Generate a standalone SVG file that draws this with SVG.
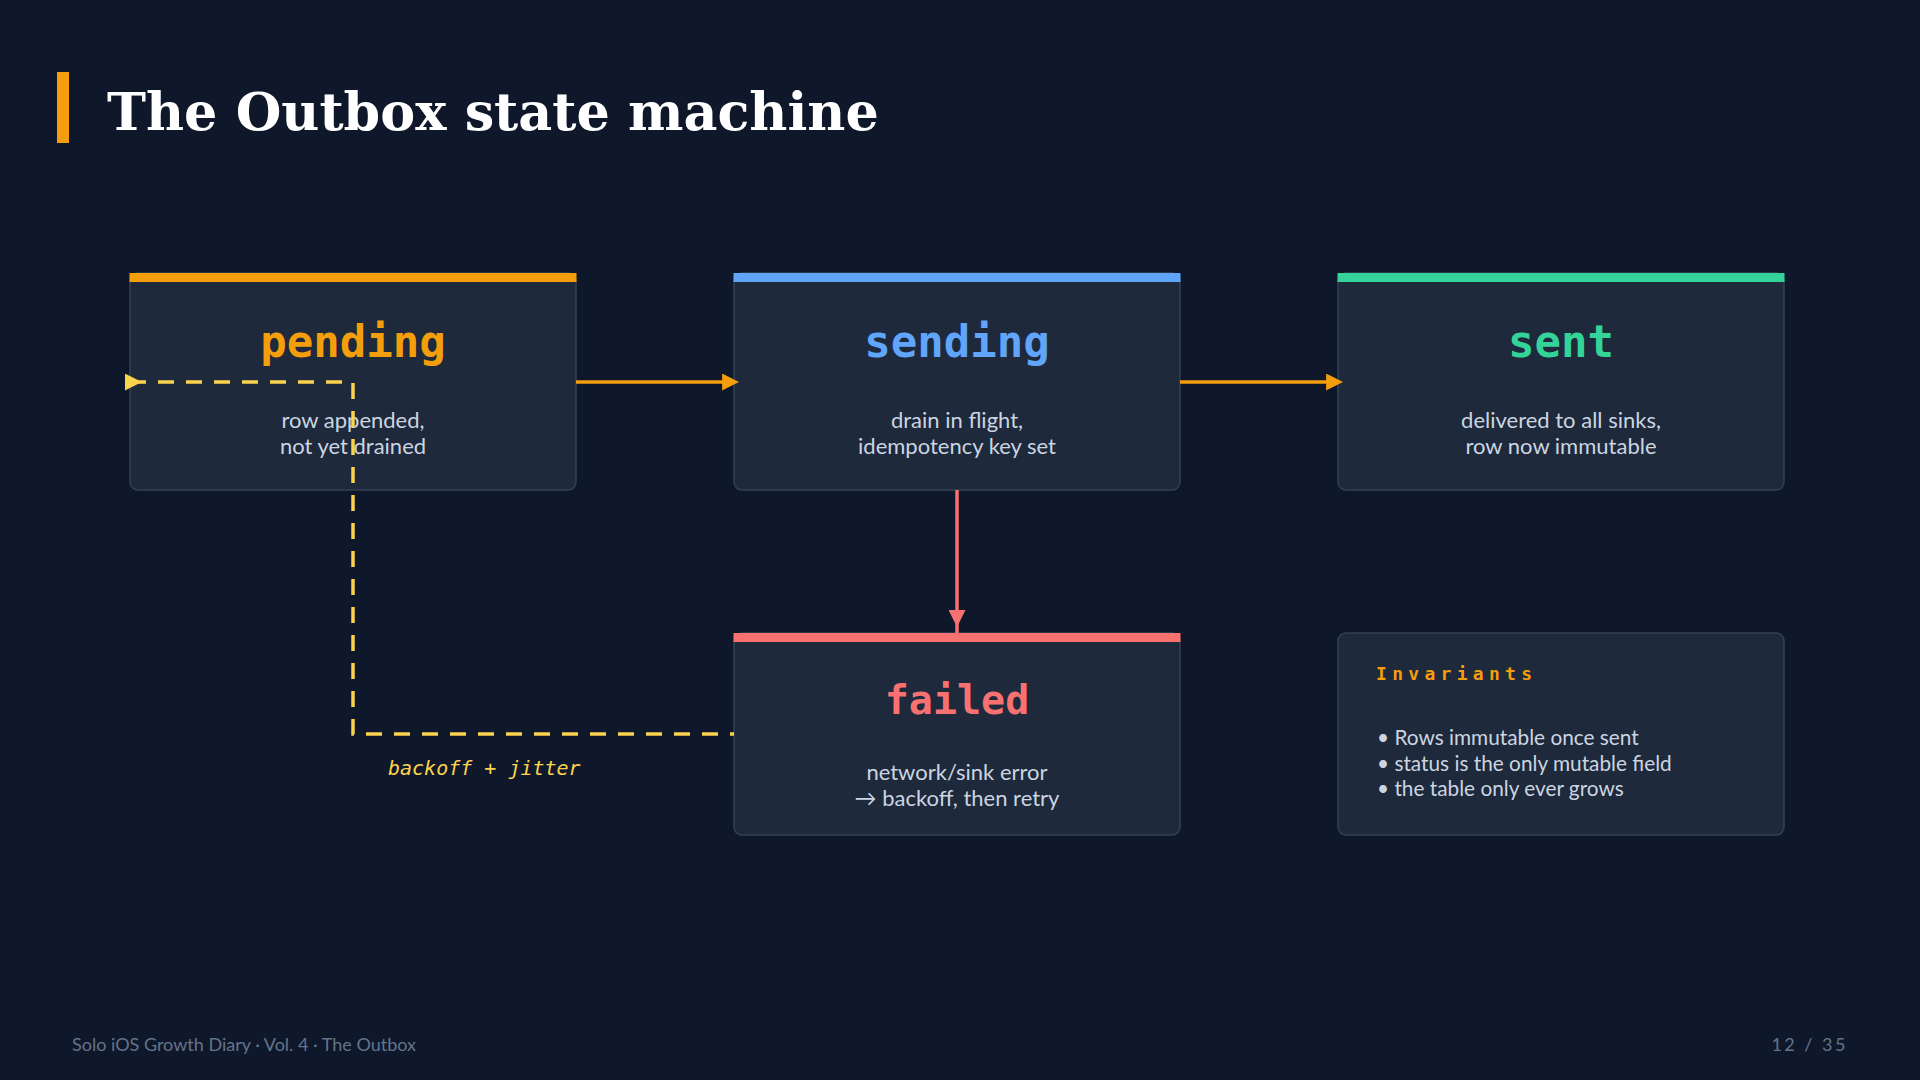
<svg xmlns="http://www.w3.org/2000/svg" width="1920" height="1080" viewBox="0 0 1920 1080">
  <style>
    .box { fill: #1e293b; stroke: #334155; stroke-width: 1.5; }
    .state { font-family: "DejaVu Sans Mono", monospace; font-weight: bold; font-size: 44px; text-anchor: middle; }
    .desc { font-family: Lato, "Liberation Sans", sans-serif; font-size: 22px; fill: #cbd5e1; text-anchor: middle; }
    .body { font-family: Lato, "Liberation Sans", sans-serif; font-size: 20.8px; fill: #cbd5e1; }
    .foot { font-family: Lato, "Liberation Sans", sans-serif; font-size: 18px; fill: #64748b; }
    .solid { fill: none; stroke-width: 3.5; }
  </style>
  <defs>
    <marker id="arrOrange" viewBox="0 0 10 10" refX="7" refY="5" markerUnits="userSpaceOnUse" markerWidth="17" markerHeight="17" orient="auto">
      <path d="M0,0 L10,5 L0,10 z" fill="#f59e0b"/>
    </marker>
    <marker id="arrRed" viewBox="0 0 10 10" refX="13.5" refY="5" markerUnits="userSpaceOnUse" markerWidth="17" markerHeight="17" orient="auto">
      <path d="M0,0 L10,5 L0,10 z" fill="#f87171"/>
    </marker>
    <marker id="arrYellow" viewBox="0 0 10 10" refX="3" refY="5" markerUnits="userSpaceOnUse" markerWidth="17" markerHeight="17" orient="auto">
      <path d="M0,0 L10,5 L0,10 z" fill="#fcd34d"/>
    </marker>
  </defs>

  <rect width="1920" height="1080" fill="#0f172a"/>

  <g id="title">
    <rect x="57" y="72" width="12" height="71" fill="#f59e0b"/>
    <text x="107" y="130" font-family="'DejaVu Serif', serif" font-weight="bold" font-size="52.4" fill="#ffffff">The Outbox state machine</text>
  </g>

  <g id="node-pending">
    <rect class="box" x="130" y="273" width="446" height="217" rx="8"/>
    <rect x="129.5" y="273" width="447" height="9" fill="#f59e0b"/>
    <text class="state" x="353" y="357" fill="#f59e0b">pending</text>
    <text class="desc" x="353" y="428">row appended,</text>
    <text class="desc" x="353" y="454">not yet drained</text>
  </g>

  <g id="node-sending">
    <rect class="box" x="734" y="273" width="446" height="217" rx="8"/>
    <rect x="733.5" y="273" width="447" height="9" fill="#60a5fa"/>
    <text class="state" x="957" y="357" fill="#60a5fa">sending</text>
    <text class="desc" x="957" y="428">drain in flight,</text>
    <text class="desc" x="957" y="454">idempotency key set</text>
  </g>

  <g id="node-sent">
    <rect class="box" x="1338" y="273" width="446" height="217" rx="8"/>
    <rect x="1337.5" y="273" width="447" height="9" fill="#34d399"/>
    <text class="state" x="1561" y="357" fill="#34d399">sent</text>
    <text class="desc" x="1561" y="428">delivered to all sinks,</text>
    <text class="desc" x="1561" y="454">row now immutable</text>
  </g>

  <g id="node-failed">
    <rect class="box" x="734" y="633" width="446" height="202" rx="8"/>
    <rect x="733.5" y="633" width="447" height="9" fill="#f87171"/>
    <text class="state" x="957" y="714" fill="#f87171" style="font-size:40px">failed</text>
    <text class="desc" x="957" y="780">network/sink error</text>
    <text class="desc" x="957" y="806">→ backoff, then retry</text>
  </g>

  <g id="node-invariants">
    <rect class="box" x="1338" y="633" width="446" height="202" rx="8"/>
    <text x="1376" y="680" font-family="'DejaVu Sans Mono', monospace" font-weight="bold" font-size="18" letter-spacing="5.3" fill="#f59e0b">Invariants</text>
    <text class="body" x="1377" y="745">• Rows immutable once sent</text>
    <text class="body" x="1377" y="771">• status is the only mutable field</text>
    <text class="body" x="1377" y="796">• the table only ever grows</text>
  </g>

  <g id="connectors">
    <path class="solid" d="M576,382 H734" stroke="#f59e0b" marker-end="url(#arrOrange)"/>
    <path class="solid" d="M1180,382 H1338" stroke="#f59e0b" marker-end="url(#arrOrange)"/>
    <path class="solid" d="M957,490 V633" stroke="#f87171" marker-end="url(#arrRed)"/>
    <path d="M130,382 H353 V734 H734" fill="none" stroke="#fcd34d" stroke-width="3.5" stroke-dasharray="16 12" marker-start="url(#arrYellow)"/>
    <text x="388" y="775" font-family="'DejaVu Sans Mono', monospace" font-style="italic" font-size="20" fill="#fcd34d">backoff + jitter</text>
  </g>

  <g id="footer">
    <text class="foot" x="72" y="1051">Solo iOS Growth Diary · Vol. 4 · The Outbox</text>
    <text class="foot" x="1848" y="1051" text-anchor="end" letter-spacing="2.5">12 / 35</text>
  </g>
</svg>
